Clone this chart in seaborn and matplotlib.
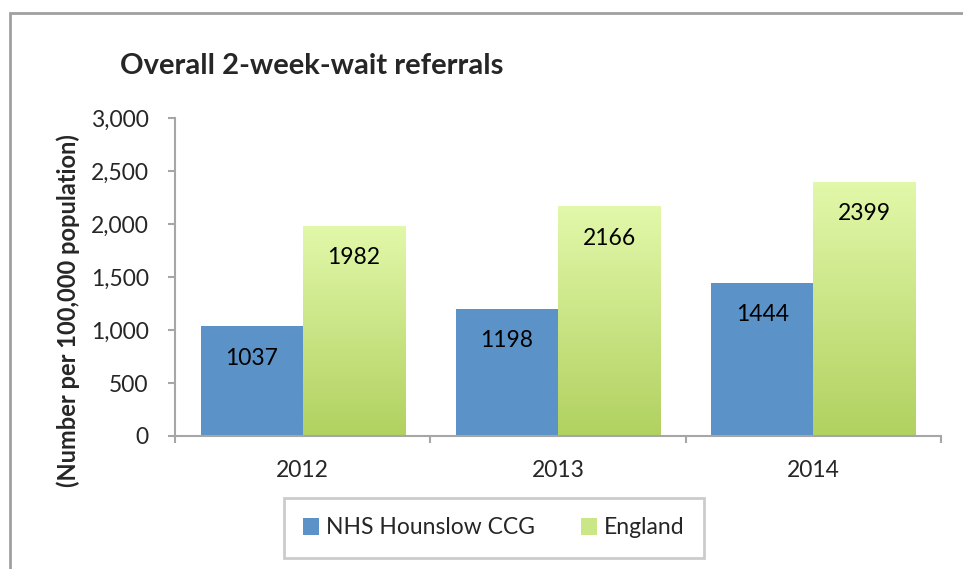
import numpy as np
import pandas as pd
import matplotlib
matplotlib.use("Agg")
import matplotlib.pyplot as plt
import seaborn as sns
from matplotlib.patches import Rectangle, Patch
from matplotlib.colors import LinearSegmentedColormap

years = ["2012", "2013", "2014"]
series_names = ["NHS Hounslow CCG", "England"]
hounslow = [1037, 1198, 1444]
england = [1982, 2166, 2399]
yticks = [0, 500, 1000, 1500, 2000, 2500, 3000]

df = pd.DataFrame({
    "year": years * 2,
    "series": [series_names[0]] * 3 + [series_names[1]] * 3,
    "value": hounslow + england,
})

sns.set_theme(style="white")
FONT = ["Lato", "DejaVu Sans"]
plt.rcParams["font.family"] = FONT

BLUE = "#5B93C8"
GREEN_TOP = "#E2F8AA"
GREEN_BOT = "#B1D160"
GREEN_MID = "#CBE687"
GRAY = "#A6A6A6"

W, H = 963, 569
fig = plt.figure(figsize=(W / 100, H / 100), dpi=100)
ax = fig.add_axes([175 / W, 1 - 436 / H, (941 - 175) / W, (436 - 118) / H])

sns.barplot(data=df, x="year", y="value", hue="series",
            palette=[BLUE, GREEN_MID], width=0.8, saturation=1,
            ax=ax, legend=False)

ax.set_ylim(0, 3000)
ax.set_xlim(-0.5, 2.5)

# gradient for England bars
cmap = LinearSegmentedColormap.from_list("g", [GREEN_BOT, GREEN_TOP])
grad = np.linspace(0, 1, 256).reshape(-1, 1)
patches = list(ax.patches)
for p in patches:
    p.set_edgecolor("none")
    p.set_linewidth(0)
eng_patches = patches[3:6]
for p in eng_patches:
    x0, y0 = p.get_x(), p.get_y()
    w, h = p.get_width(), p.get_height()
    im = ax.imshow(grad, cmap=cmap, origin="lower", aspect="auto",
                   extent=[x0, x0 + w, y0, y0 + h], zorder=p.get_zorder() + 0.1)
    im.set_clip_path(p)
ax.set_xlim(-0.5, 2.5)
ax.set_ylim(0, 3000)

# value labels
for p in patches:
    val = p.get_height()
    ax.annotate(f"{int(round(val))}", (p.get_x() + p.get_width() / 2, val),
                xytext=(0, -23), textcoords="offset points",
                ha="center", va="center", fontsize=16.5, color="black",
                zorder=5)

# axes styling
for s in ["top", "right"]:
    ax.spines[s].set_visible(False)
for s in ["left", "bottom"]:
    ax.spines[s].set_color(GRAY)
    ax.spines[s].set_linewidth(1.5)

ax.set_yticks(yticks)
ax.set_yticklabels([f"{v:,}" for v in yticks])
ax.tick_params(axis="y", which="major", direction="out", length=5, width=1.5,
               color=GRAY, pad=14, labelsize=16.5, left=True)
ax.set_xticks(range(3))
ax.set_xticklabels(years)
ax.tick_params(axis="x", which="major", length=0, pad=17, labelsize=16.5)
ax.set_xticks([-0.5, 0.5, 1.5, 2.5], minor=True)
ax.tick_params(axis="x", which="minor", direction="out", length=5, width=1.5,
               color=GRAY, bottom=True)
ax.set_xlabel("")
ax.set_ylabel("")
ax.grid(False)

# title and y label
fig.text(120 / W, 1 - 66 / H, "Overall 2-week-wait referrals", ha="left",
         va="center", fontsize=21, fontweight="bold", family=FONT)
fig.text(68 / W, 1 - 311 / H, "(Number per 100,000 population)", ha="center",
         va="center", rotation=90, fontsize=17, fontweight="bold", family=FONT)

# legend
handles = [Patch(facecolor=BLUE, edgecolor="none"),
           Patch(facecolor=GREEN_MID, edgecolor="none")]
leg = fig.legend(handles, series_names, loc="center",
                 bbox_to_anchor=(494 / W, 1 - 528 / H), ncol=2,
                 fontsize=16.5, frameon=True, fancybox=False,
                 handlelength=0.7, handleheight=0.7, handletextpad=0.3,
                 columnspacing=2.0, borderpad=0.85, borderaxespad=0)
leg.get_frame().set_edgecolor("#BFBFBF")
leg.get_frame().set_linewidth(2)
leg.get_frame().set_boxstyle("square", pad=0)

# outer frame
fig.add_artist(Rectangle((10 / W, -0.1), 1.2, 1.1 - 13 / H,
                         transform=fig.transFigure, fill=False,
                         edgecolor="#A0A0A0", linewidth=2))

fig.savefig("out.png", dpi=100)
